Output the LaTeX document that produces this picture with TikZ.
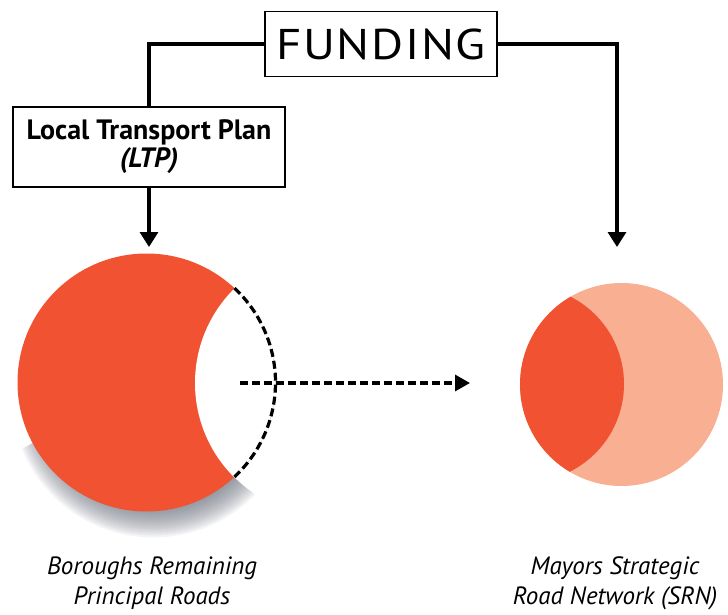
\documentclass[tikz,border=0pt]{standalone}
\usepackage{fontspec}
\setmainfont{PT Sans}
\newfontfamily\fundfont{PT Sans}[FakeStretch=1.14, LetterSpace=4]
\usetikzlibrary{arrows.meta}
\definecolor{roadred}{RGB}{240,82,50}
\definecolor{roadpink}{RGB}{249,175,145}
\definecolor{shadowgrey}{RGB}{100,106,118}

\begin{document}
\begin{tikzpicture}[x=1pt,y=-1pt,
  box/.style={draw, line width=1.6pt, fill=white, align=center, inner sep=0pt},
  link/.style={line width=3.3pt},
  arrow/.style={-{Triangle[length=15pt,width=18pt]}, line width=3.3pt},
  dashline/.style={line width=3.2pt, dash pattern=on 8pt off 4pt},
  caption/.style={font=\itshape\fontsize{25}{30}\selectfont, align=center}
]
\useasboundingbox (0,0) rectangle (728,615);

% boxes
\node[box, minimum width=232, minimum height=65, font=\fundfont\fontsize{43}{44}\selectfont] (fund) at (381,44) {FUNDING};
\node[box, minimum width=272, minimum height=80, font=\bfseries\fontsize{28}{28}\selectfont] (ltp) at (149,147)
  {Local Transport Plan\\\textit{(LTP)}};

% circle centres
\coordinate (brp)  at (146.5,382.5);
\coordinate (bite) at (328,383);
\coordinate (srn)  at (621.5,384.5);
\coordinate (lens) at (526,384);
\coordinate (ltptip) at (149,247);
\coordinate (srntip) at (617,247);
\coordinate (dstart) at (240,383);
\coordinate (dend)   at (470,383);

% funding lines
\draw[link] (fund.west) -| (ltp.north);
\draw[arrow] (fund.east) -| (srntip);
\draw[arrow] (ltp.south) -- (ltptip);

% soft shadow of the remaining roads, lower right only
\begin{scope}[even odd rule]
  \clip (-20,-20) rectangle (760,640) (bite) circle[radius=133];
  \clip (-60,493) -- (352,271) -- (760,640) -- (-60,640) -- cycle;
  \foreach \k in {1,...,14}
    \fill[shadowgrey, opacity=0.075] ([shift={(7,13)}]brp) circle[radius=114+2*\k];
\end{scope}

% boroughs remaining principal roads
\fill[roadred] (brp) circle[radius=129];
\begin{scope}
  \clip (brp) circle[radius=129];
  \fill[white] (bite) circle[radius=133];
\end{scope}
\draw[dashline] ([shift={(-47:129)}]brp) arc[start angle=-47, end angle=47, radius=129];

% transfer
\draw[dashline, -{Triangle[length=15pt,width=16pt]}] (dstart) -- (dend);

% strategic road network
\fill[roadpink] (srn) circle[radius=101.5];
\begin{scope}
  \clip (srn) circle[radius=101.5];
  \fill[roadred] (lens) circle[radius=98];
\end{scope}

% captions
\node[caption] (brpC) at (152,583) {Boroughs Remaining\\Principal Roads};
\node[caption] (srnC) at (615,583) {Mayors Strategic\\Road Network (SRN)};

\end{tikzpicture}
\end{document}
